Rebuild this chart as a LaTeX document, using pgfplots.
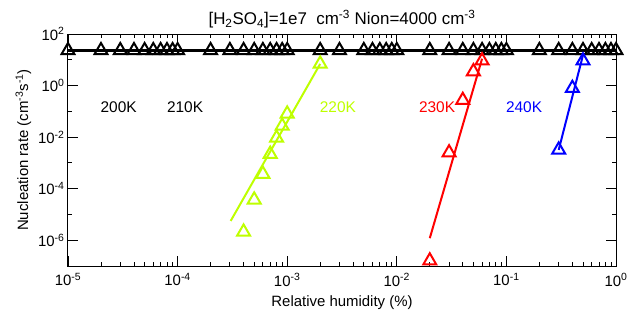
\documentclass[border=0pt]{standalone}
\usepackage{fontspec}
\setmainfont{Liberation Sans}
\usepackage{pgfplots}
\pgfplotsset{compat=1.18}
\definecolor{lgreen}{RGB}{190,255,0}
\begin{document}
\begin{tikzpicture}
\begin{axis}[
  xmode=log, ymode=log,
  xmin=1e-5, xmax=1, ymin=1e-7, ymax=100,
  scale only axis, width=548bp, height=232bp,
  xtick={1e-5,1e-4,1e-3,1e-2,1e-1,1},
  xticklabels={10\textsuperscript{-5},10\textsuperscript{-4},10\textsuperscript{-3},10\textsuperscript{-2},10\textsuperscript{-1},10\textsuperscript{0}},
  minor xtick={2e-5,3e-5,4e-5,5e-5,6e-5,7e-5,8e-5,9e-5,2e-4,3e-4,4e-4,5e-4,6e-4,7e-4,8e-4,9e-4,2e-3,3e-3,4e-3,5e-3,6e-3,7e-3,8e-3,9e-3,2e-2,3e-2,4e-2,5e-2,6e-2,7e-2,8e-2,9e-2,0.2,0.3,0.4,0.5,0.6,0.7,0.8,0.9},
  ytick={1e-6,1e-4,1e-2,1,100},
  yticklabels={10\textsuperscript{-6},10\textsuperscript{-4},10\textsuperscript{-2},10\textsuperscript{0},10\textsuperscript{2}},
  minor ytick={1e-7,1e-5,1e-3,1e-1,10},
  tick align=inside,
  major tick length=10bp, minor tick length=4.5bp,
  tick style={black, line width=0.8bp},
  axis line style={line width=1bp},
  ticklabel style={font=\fontsize{15}{15}\selectfont},
  xticklabel style={yshift=-4bp},
  xlabel={Relative humidity (\%)},
  ylabel={Nucleation rate (cm\textsuperscript{-3}s\textsuperscript{-1})},
  label style={font=\fontsize{15}{15}\selectfont},
  xlabel style={yshift=-3bp},
  title={[H\textsubscript{2}SO\textsubscript{4}]=1e7\ \ cm\textsuperscript{-3} Nion=4000 cm\textsuperscript{-3}},
  title style={font=\fontsize{17}{17}\selectfont, yshift=-4bp},
  clip=false,
]
% black series (200K, 210K saturated)
\addplot[black, line width=2.2bp, mark=triangle, mark size=7.5bp, mark options={line width=2bp, fill=none, solid}] coordinates {
(1e-5,23)(2e-5,23)(3e-5,23)(4e-5,23)(5e-5,23)(6e-5,23)(7e-5,23)(8e-5,23)(9e-5,23)
(1e-4,23)(2e-4,23)(3e-4,23)(4e-4,23)(5e-4,23)(6e-4,23)(7e-4,23)(8e-4,23)(9e-4,23)
(1e-3,23)(2e-3,23)(3e-3,23)(5e-3,23)(6e-3,23)(7e-3,23)(8e-3,23)(9e-3,23)
(1e-2,23)(2e-2,23)(3e-2,23)(4e-2,23)(5e-2,23)(6e-2,23)(7e-2,23)(8e-2,23)(9e-2,23)
(0.1,23)(0.2,23)(0.3,23)(0.4,23)(0.5,23)(0.6,23)(0.7,23)(0.8,23)(0.9,23)(1,23)
};
% fit lines
\addplot[lgreen, line width=2bp] coordinates {(3.05e-4,5.6e-6)(2e-3,6.9)};
\addplot[red, line width=2bp] coordinates {(2e-2,1.2e-6)(6e-2,11)};
\addplot[blue, line width=2bp] coordinates {(0.3,3.2e-3)(0.505,18)};
% markers
\addplot[only marks, lgreen, mark=triangle, mark size=7.5bp, mark options={line width=2bp, fill=none}] coordinates {
(4e-4,2.1e-6)(5e-4,3.7e-5)(6e-4,3.7e-4)(7e-4,2.2e-3)(8e-4,9.3e-3)(9e-4,2.7e-2)(1e-3,8e-2)(2e-3,6.9)};
\addplot[only marks, red, mark=triangle, mark size=7.5bp, mark options={line width=2bp, fill=none}] coordinates {
(2e-2,1.6e-7)(3e-2,2.5e-3)(4e-2,0.27)(5e-2,3.5)(6e-2,9.2)};
\addplot[only marks, blue, mark=triangle, mark size=7.5bp, mark options={line width=2bp, fill=none}] coordinates {
(0.3,3.2e-3)(0.4,0.79)(0.5,9.2)};
% labels
\node[font=\fontsize{15.5}{15.5}\selectfont, black] at (axis cs:2.9e-5,0.148) {200K};
\node[font=\fontsize{15.5}{15.5}\selectfont, black] at (axis cs:1.17e-4,0.148) {210K};
\node[font=\fontsize{15.5}{15.5}\selectfont, lgreen] at (axis cs:2.9e-3,0.148) {220K};
\node[font=\fontsize{15.5}{15.5}\selectfont, red] at (axis cs:2.33e-2,0.148) {230K};
\node[font=\fontsize{15.5}{15.5}\selectfont, blue] at (axis cs:0.145,0.148) {240K};
\end{axis}
\pgfresetboundingbox
\path[use as bounding box] ([shift={(-68bp,-45bp)}]current axis.south west) rectangle ([shift={(19bp,34bp)}]current axis.north east);
\end{tikzpicture}
\end{document}
